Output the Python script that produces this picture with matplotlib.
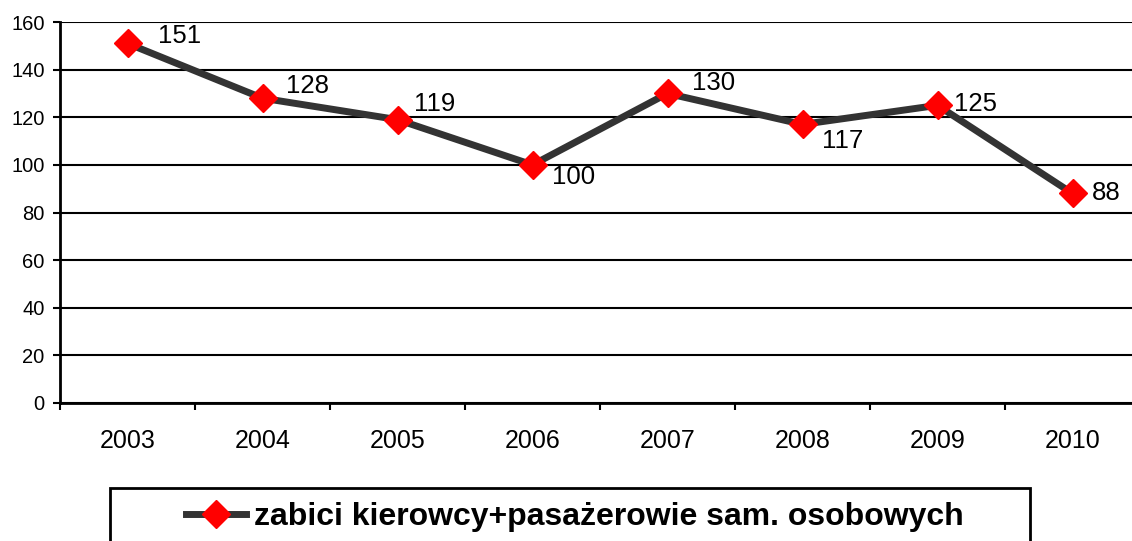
import matplotlib
matplotlib.use("Agg")
import matplotlib.pyplot as plt
from matplotlib.patches import Rectangle
from matplotlib.lines import Line2D

years = ["2003", "2004", "2005", "2006", "2007", "2008", "2009", "2010"]
values = [151, 128, 119, 100, 130, 117, 125, 88]
series_name = "zabici kierowcy+pasażerowie sam. osobowych"
y_ticks = [0, 20, 40, 60, 80, 100, 120, 140, 160]

# label offsets in pixels (dx, dy with dy positive = up)
label_offsets = [(31, 7), (23, 12), (16, 16), (20, -12), (25, 10), (20, -17), (16, 1), (19, 0)]

plt.rcParams['font.family'] = ['Liberation Sans', 'DejaVu Sans']

W, H = 1132, 541
fig = plt.figure(figsize=(W / 100, H / 100), dpi=100)
ax = fig.add_axes([60 / W, 1 - 403 / H, (1140 - 60) / W, (403 - 22) / H])

x = list(range(len(years)))
line_color = "#333333"
ax.plot(x, values, color=line_color, lw=5, marker="D", ms=14,
        mfc="red", mec="red", zorder=3, clip_on=False)

px2pt = 72 / 100
for xi, v, (dx, dy) in zip(x, values, label_offsets):
    ax.annotate(str(v), (xi, v), xytext=(dx * px2pt, dy * px2pt),
                textcoords="offset points", ha="left", va="center",
                fontsize=18.5, color="black", zorder=4)

ax.set_xlim(-0.5, len(years) - 0.5)
ax.set_ylim(0, 160)
ax.set_yticks(y_ticks)
ax.yaxis.grid(True, color="black", lw=1.5)
ax.set_axisbelow(True)

ax.set_xticks([i - 0.5 for i in range(len(years) + 1)])
ax.set_xticklabels([])
ax.set_xticks(x, minor=True)
ax.set_xticklabels(years, minor=True, fontsize=18)
ax.tick_params(axis="x", which="major", direction="out", length=5, width=1.5, color="black")
ax.tick_params(axis="x", which="minor", length=0, pad=19)
ax.tick_params(axis="y", direction="out", length=5, width=1.5, labelsize=14.5, pad=6)

for s in ["top", "right"]:
    ax.spines[s].set_visible(False)
for s in ["left", "bottom"]:
    ax.spines[s].set_linewidth(2)
    ax.spines[s].set_color("black")

# legend frame
rect = Rectangle((110 / W, -0.2), (1030 - 110) / W, 0.2 + (1 - 488 / H),
                 transform=fig.transFigure, fill=False, edgecolor="black", lw=2)
fig.patches.append(rect)

handle = Line2D([0], [0], color=line_color, lw=5, marker="D", ms=14, mfc="red", mec="red")
fig.legend([handle], [series_name], loc="center", bbox_to_anchor=(575 / W, 1 - 517 / H),
           frameon=False, prop={"weight": "bold", "size": 23}, handlelength=1.9,
           handletextpad=0.25, numpoints=1)

fig.savefig("out.png", dpi=100)
